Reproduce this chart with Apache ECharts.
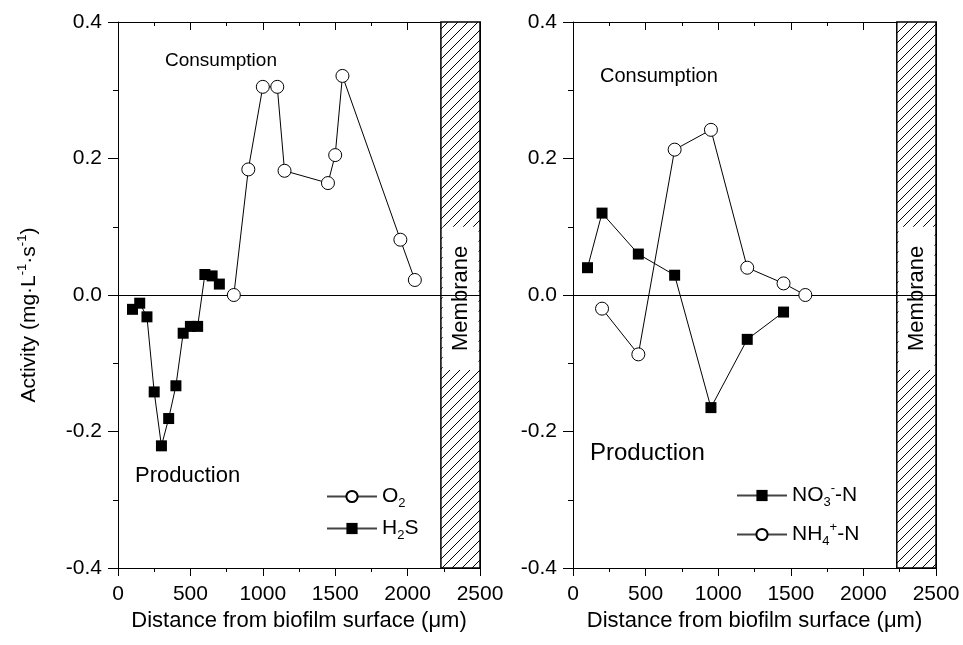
<!DOCTYPE html>
<html>
<head>
<meta charset="utf-8">
<script src="https://cdn.jsdelivr.net/npm/echarts@6/dist/echarts.min.js"></script>
<style>
  html, body { margin: 0; padding: 0; background: #fff; }
  #chart { width: 963px; height: 645px; }
</style>
</head>
<body>
<div id="chart"></div>
<script>
// Left panel: oxygen consumption and sulfide production profiles
const o2Depth  = [800, 900, 1000, 1100, 1150, 1450, 1500, 1550, 1950, 2050];
const o2Rate   = [0, 0.184, 0.305, 0.305, 0.182, 0.164, 0.205, 0.321, 0.081, 0.022];
const h2sDepth = [100, 150, 200, 250, 300, 350, 400, 450, 500, 550, 600, 650, 700];
const h2sRate  = [-0.021, -0.012, -0.032, -0.142, -0.221, -0.181, -0.133, -0.056, -0.046, -0.046, 0.030, 0.028, 0.016];

// Right panel: nitrate and ammonium profiles
const no3Depth = [100, 200, 450, 700, 950, 1200, 1450];
const no3Rate  = [0.040, 0.120, 0.060, 0.029, -0.165, -0.065, -0.025];
const nh4Depth = [200, 450, 700, 950, 1200, 1450, 1600];
const nh4Rate  = [-0.020, -0.087, 0.213, 0.242, 0.040, 0.017, 0];

// Axis ranges and the membrane band (µm)
const xTicks = [0, 500, 1000, 1500, 2000, 2500];
const yTicks = [-0.4, -0.2, 0.0, 0.2, 0.4];
const membraneFrom = 2230;
const membraneTo = 2500;
const membraneLabelBand = [-0.11, 0.1];

const FONT = '"Liberation Sans", Arial, Helvetica, sans-serif';
const TICK_SIZE = 21;

function pairs(xs, ys) { return xs.map((x, i) => [x, ys[i]]); }

// Diagonal hatch used to fill the membrane
function hatchPattern() {
  const c = document.createElement('canvas');
  const s = 10;
  c.width = s; c.height = s;
  const g = c.getContext('2d');
  g.fillStyle = '#fff';
  g.fillRect(0, 0, s, s);
  g.strokeStyle = '#000';
  g.lineWidth = 1;
  g.beginPath();
  g.moveTo(0, s); g.lineTo(s, 0);
  g.moveTo(-1, 1); g.lineTo(1, -1);
  g.moveTo(s - 1, s + 1); g.lineTo(s + 1, s - 1);
  g.stroke();
  return { image: c, repeat: 'repeat' };
}
const hatch = hatchPattern();

const grids = [
  { left: 118, top: 22, width: 362, height: 546 },
  { left: 573, top: 22, width: 363, height: 546 }
];

function bottomAxis(gi) {
  return {
    type: 'value', gridIndex: gi, position: 'bottom',
    min: xTicks[0], max: xTicks[xTicks.length - 1], interval: 500,
    axisLine: { show: true, onZero: false, lineStyle: { color: '#000', width: 1 } },
    axisTick: { show: true, inside: false, length: 8, lineStyle: { color: '#000' } },
    minorTick: { show: true, splitNumber: 2, length: 4, lineStyle: { color: '#000' } },
    axisLabel: {
      show: true, margin: 16, color: '#000', fontSize: TICK_SIZE, fontFamily: FONT,
      formatter: v => String(v)
    },
    splitLine: { show: false },
    name: 'Distance from biofilm surface (\u03bcm)',
    nameLocation: 'middle', nameGap: 42,
    nameTextStyle: { color: '#000', fontSize: 22, fontFamily: FONT }
  };
}
function topAxis(gi) {
  return {
    type: 'value', gridIndex: gi, position: 'top',
    min: xTicks[0], max: xTicks[xTicks.length - 1], interval: 500,
    axisLine: { show: true, onZero: false, lineStyle: { color: '#000', width: 1 } },
    axisTick: { show: true, inside: true, length: 8, lineStyle: { color: '#000' } },
    minorTick: { show: true, splitNumber: 2, length: 4, lineStyle: { color: '#000' } },
    axisLabel: { show: false },
    splitLine: { show: false }
  };
}
function leftAxis(gi, withName) {
  const ax = {
    type: 'value', gridIndex: gi, position: 'left',
    min: yTicks[0], max: yTicks[yTicks.length - 1], interval: 0.2,
    axisLine: { show: true, onZero: false, lineStyle: { color: '#000', width: 1 } },
    axisTick: { show: true, inside: false, length: 10, lineStyle: { color: '#000' } },
    minorTick: { show: true, splitNumber: 2, length: 5, lineStyle: { color: '#000' } },
    axisLabel: {
      show: true, margin: 16, color: '#000', fontSize: TICK_SIZE, fontFamily: FONT,
      formatter: v => v.toFixed(1)
    },
    splitLine: { show: false }
  };
  if (withName) {
    ax.name = '{t|Activity (mg\u00b7L}{sup|-1}{t|\u00b7s}{sup|-1}{t|)}';
    ax.nameLocation = 'middle';
    ax.nameGap = 76;
    ax.nameTextStyle = {
      color: '#000', fontFamily: FONT, padding: [0, 40, 0, 0],
      rich: {
        t: { fontSize: 21, fontFamily: FONT, color: '#000' },
        sup: { fontSize: 13, fontFamily: FONT, color: '#000', padding: [0, 0, 13, 0] }
      }
    };
  }
  return ax;
}
function rightAxis(gi) {
  return {
    type: 'value', gridIndex: gi, position: 'right',
    min: yTicks[0], max: yTicks[yTicks.length - 1], interval: 0.2,
    axisLine: { show: true, onZero: false, lineStyle: { color: '#000', width: 1 } },
    axisTick: { show: false }, axisLabel: { show: false }, splitLine: { show: false }
  };
}

const lineStyle = { color: '#000', width: 1 };
function circleSeries(name, xi, yi, data) {
  return {
    name, type: 'line', xAxisIndex: xi, yAxisIndex: yi, data,
    symbol: 'circle', symbolSize: 13, z: 3,
    lineStyle, itemStyle: { color: '#fff', borderColor: '#000', borderWidth: 1 },
    emphasis: { disabled: true }, animation: false
  };
}
function squareSeries(name, xi, yi, data) {
  return {
    name, type: 'line', xAxisIndex: xi, yAxisIndex: yi, data,
    symbol: 'rect', symbolSize: 11, z: 3,
    lineStyle, itemStyle: { color: '#000', borderColor: '#000', borderWidth: 0 },
    emphasis: { disabled: true }, animation: false
  };
}

// Zero reference line and membrane band for one panel
function panelDecor(xi, yi) {
  return {
    type: 'line', xAxisIndex: xi, yAxisIndex: yi, data: [], z: 5, silent: true,
    animation: false,
    markLine: {
      silent: true, symbol: 'none', animation: false, z: 1,
      label: { show: false },
      lineStyle: { color: '#000', width: 1, type: 'solid' },
      data: [{ yAxis: 0 }]
    },
    markArea: {
      silent: true, animation: false,
      data: [
        [
          { xAxis: membraneFrom, yAxis: yTicks[0], itemStyle: { color: hatch, borderColor: '#000', borderWidth: 1.5 } },
          { xAxis: membraneTo, yAxis: yTicks[yTicks.length - 1] }
        ],
        [
          {
            xAxis: membraneFrom + 12, yAxis: membraneLabelBand[0],
            itemStyle: { color: '#fff', borderWidth: 0 },
            label: {
              show: true, position: 'inside', rotate: 90, formatter: 'Membrane',
              color: '#000', fontSize: 22, fontFamily: FONT
            }
          },
          { xAxis: membraneTo - 10, yAxis: membraneLabelBand[1] }
        ]
      ]
    }
  };
}

const legendRich = {
  t: { fontSize: 21, fontFamily: FONT, color: '#000' },
  sub: { fontSize: 13, fontFamily: FONT, color: '#000', padding: [14, 0, 0, 0] },
  sup: { fontSize: 13, fontFamily: FONT, color: '#000', padding: [0, 0, 14, 0] }
};
const legendText = {
  'O2': '{t|O}{sub|2}',
  'H2S': '{t|H}{sub|2}{t|S}',
  'NO3-N': '{t|NO}{sub|3}{sup|-}{t|-N}',
  'NH4-N': '{t|NH}{sub|4}{sup|+}{t|-N}'
};

const textStyle = { fill: '#000', fontFamily: FONT };

const option = {
  backgroundColor: '#fff',
  animation: false,
  grid: grids,
  xAxis: [bottomAxis(0), topAxis(0), bottomAxis(1), topAxis(1)],
  yAxis: [leftAxis(0, true), rightAxis(0), leftAxis(1, false), rightAxis(1)],
  legend: [
    {
      data: ['O2', 'H2S'], orient: 'vertical', left: 326, top: 486, padding: 0,
      itemWidth: 50, itemHeight: 14, itemGap: 8, selectedMode: false,
      lineStyle: { color: '#444' },
      formatter: n => legendText[n], textStyle: { rich: legendRich }
    },
    {
      data: ['NO3-N', 'NH4-N'], orient: 'vertical', left: 736, top: 482, padding: 0,
      itemWidth: 50, itemHeight: 14, itemGap: 12, selectedMode: false,
      lineStyle: { color: '#444' },
      formatter: n => legendText[n], textStyle: { rich: legendRich }
    }
  ],
  graphic: [
    { type: 'text', left: 165, top: 51, style: Object.assign({ text: 'Consumption', fontSize: 19 }, textStyle) },
    { type: 'text', left: 135, top: 465, style: Object.assign({ text: 'Production', fontSize: 22 }, textStyle) },
    { type: 'text', left: 600, top: 66, style: Object.assign({ text: 'Consumption', fontSize: 20 }, textStyle) },
    { type: 'text', left: 590, top: 441, style: Object.assign({ text: 'Production', fontSize: 24 }, textStyle) }
  ],
  series: [
    panelDecor(0, 0),
    circleSeries('O2', 0, 0, pairs(o2Depth, o2Rate)),
    squareSeries('H2S', 0, 0, pairs(h2sDepth, h2sRate)),
    panelDecor(2, 2),
    squareSeries('NO3-N', 2, 2, pairs(no3Depth, no3Rate)),
    circleSeries('NH4-N', 2, 2, pairs(nh4Depth, nh4Rate))
  ]
};

const chart = echarts.init(document.getElementById('chart'), null, { renderer: 'canvas' });
chart.setOption(option);
</script>
</body>
</html>
